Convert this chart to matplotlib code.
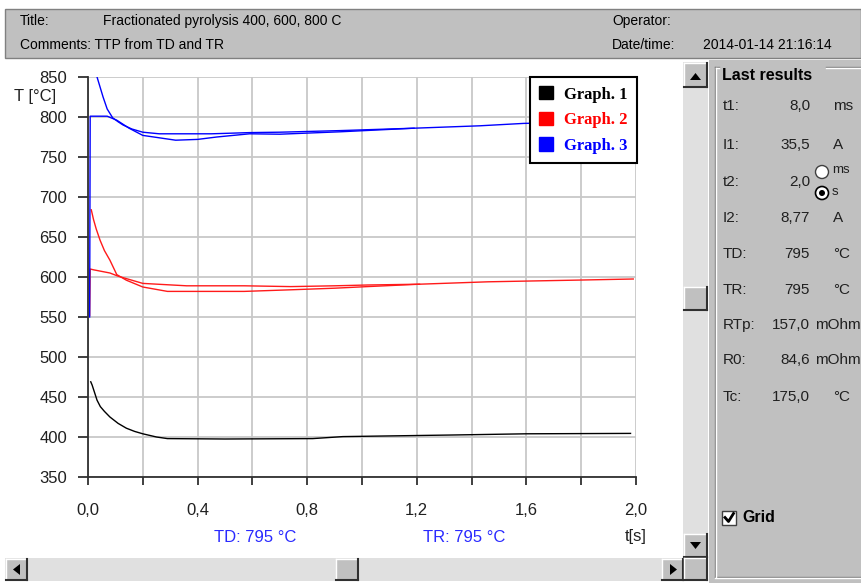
import numpy as np
import matplotlib
matplotlib.use("Agg")
import matplotlib.pyplot as plt
from matplotlib.patches import Rectangle, Polygon, Circle, Patch
from matplotlib.ticker import FuncFormatter
from matplotlib import font_manager

W, H = 861, 583

# Graph 1 (black)
t_g1 = [0.010, 0.015, 0.033, 0.045, 0.06, 0.08, 0.11, 0.14, 0.17, 0.20, 0.25, 0.29, 0.50, 0.82, 0.93, 1.33, 1.60, 1.98]
T_g1 = [469, 465, 446, 438, 432, 425, 417, 411, 407, 404, 400, 398, 397.5, 398, 400.5, 402.5, 404, 404.5]

# Graph 2 (red), two traces
t_g2a = [0.012, 0.02, 0.03, 0.044, 0.06, 0.08, 0.105, 0.14, 0.20, 0.29, 0.57, 0.74, 0.90, 1.02, 1.21, 1.46, 1.77, 1.99]
T_g2a = [684, 672, 660, 646, 633, 621, 603, 596, 587.5, 582, 582, 584, 586, 588, 591, 594, 596, 597.5]
t_g2b = [0.006, 0.008, 0.02, 0.05, 0.08, 0.11, 0.20, 0.36, 0.57, 0.74, 0.90, 1.02, 1.21]
T_g2b = [552, 610, 609, 607, 605, 601, 592, 589, 589, 588, 589, 590, 591]

# Graph 3 (blue), two traces
t_g3a = [0.028, 0.033, 0.055, 0.07, 0.09, 0.11, 0.128, 0.16, 0.20, 0.26, 0.45, 0.59, 0.70, 0.92, 1.19, 1.43, 1.59, 2.0]
T_g3a = [862, 850, 825, 810, 799, 794, 790, 785, 781, 779, 779, 780.5, 781, 783, 786, 789, 792, 795]
t_g3b = [0.006, 0.008, 0.07, 0.105, 0.15, 0.20, 0.32, 0.40, 0.47, 0.59, 0.70, 0.92, 1.19]
T_g3b = [550, 801, 801, 796, 786, 777, 771, 772, 775, 779, 778.5, 781.5, 786]

legend_labels = ["Graph. 1", "Graph. 2", "Graph. 3"]
legend_colors = ["#000000", "#ff0000", "#0000ff"]

results = [("t1:", "8,0", "ms", 106), ("I1:", "35,5", "A", 145), ("t2:", "2,0", "", 182),
           ("I2:", "8,77", "A", 218), ("TD:", "795", "°C", 254), ("TR:", "795", "°C", 290),
           ("RTp:", "157,0", "mOhm", 325), ("R0:", "84,6", "mOhm", 360), ("Tc:", "175,0", "°C", 397)]

avail = {f.name for f in font_manager.fontManager.ttflist}
if "Liberation Sans Narrow" in avail:
    hdr_font, hdr_size = "Liberation Sans Narrow", 12
else:
    hdr_font, hdr_size = "Liberation Sans", 10
sans = "Liberation Sans"

fig = plt.figure(figsize=(W / 100, H / 100), dpi=100)
fig.patch.set_facecolor("white")

# background "window" drawn in pixel coordinates
bg = fig.add_axes([0, 0, 1, 1])
bg.set_xlim(0, W)
bg.set_ylim(H, 0)
bg.axis("off")
bg.set_zorder(0)

def rect(x0, y0, x1, y1, fc, ec="none", lw=0):
    bg.add_patch(Rectangle((x0, y0), x1 - x0, y1 - y0, facecolor=fc, edgecolor=ec, linewidth=lw))

def button(x0, y0, x1, y1):
    rect(x0, y0, x1, y1, "#c0c0c0")
    bg.plot([x0, x1], [y0, y0], color="white", lw=1)
    bg.plot([x0, x0], [y0, y1], color="white", lw=1)
    bg.plot([x0, x1], [y1, y1], color="#303030", lw=1.5)
    bg.plot([x1, x1], [y0, y1], color="#303030", lw=1.5)

def tri(pts):
    bg.add_patch(Polygon(pts, closed=True, facecolor="black", edgecolor="none"))

# header
rect(5, 9, W, 58, "#c0c0c0", "#808080", 1)
bg.text(20, 21, "Title:", fontfamily=hdr_font, fontsize=hdr_size, va="center")
bg.text(103, 21, "Fractionated pyrolysis 400, 600, 800 C", fontfamily=hdr_font, fontsize=hdr_size, va="center")
bg.text(20, 45, "Comments: TTP from TD and TR", fontfamily=hdr_font, fontsize=hdr_size, va="center")
bg.text(612, 21, "Operator:", fontfamily=hdr_font, fontsize=hdr_size, va="center")
bg.text(612, 45, "Date/time:", fontfamily=hdr_font, fontsize=hdr_size, va="center")
bg.text(703, 45, "2014-01-14 21:16:14", fontfamily=hdr_font, fontsize=hdr_size, va="center")

# vertical scrollbar
rect(683, 62, 708, 558, "#e0e0e0")
button(684, 63, 707, 87)
tri([(690, 80), (701, 80), (695.5, 73)])
button(684, 287, 707, 310)
button(684, 534, 707, 557)
tri([(690, 542), (701, 542), (695.5, 549)])
# horizontal scrollbar
rect(5, 558, 683, 581, "#e0e0e0")
button(6, 559, 27, 580)
tri([(20, 564), (20, 575), (13, 569.5)])
button(336, 559, 358, 580)
button(662, 559, 683, 580)
tri([(670, 564), (670, 575), (677, 569.5)])
button(684, 558, 707, 580)

# right panel
rect(709, 60, W, H, "#c0c0c0")
for dx, c in ((0, "#808080"), (1, "white")):
    bg.plot([715 + dx, 715 + dx], [67 + dx, 577], color=c, lw=1)
    bg.plot([715 + dx, 719], [67 + dx, 67 + dx], color=c, lw=1)
    bg.plot([826, W], [67 + dx, 67 + dx], color=c, lw=1)
    bg.plot([715, W], [577 + dx, 577 + dx], color=c, lw=1)
bg.text(722, 75, "Last results", fontfamily=sans, fontsize=11.5, fontweight="bold", va="center")
for lab, val, unit, y in results:
    bg.text(723, y, lab, fontfamily=sans, fontsize=11, va="center", color="#202020")
    bg.text(810, y, val, fontfamily=sans, fontsize=11, va="center", ha="right", color="#202020")
    if unit == "mOhm":
        bg.text(815, y, unit, fontfamily=sans, fontsize=11, va="center", color="#202020")
    elif unit:
        bg.text(833, y, unit, fontfamily=sans, fontsize=11, va="center", color="#202020")
# radio buttons for t2 unit
bg.add_patch(Circle((822, 172), 6.5, facecolor="white", edgecolor="#404040", lw=1))
bg.add_patch(Circle((822, 193), 6.5, facecolor="white", edgecolor="black", lw=1.2))
bg.add_patch(Circle((822, 193), 3, facecolor="black", edgecolor="none"))
bg.text(832, 170, "ms", fontfamily=sans, fontsize=9.5, va="center", color="#202020")
bg.text(832, 192, "s", fontfamily=sans, fontsize=9.5, va="center", color="#202020")
# grid checkbox
rect(722, 511, 736, 525, "white", "#404040", 1)
bg.plot([725, 728.5, 733.5], [517.5, 521.5, 513.5], color="black", lw=2)
bg.text(742, 518, "Grid", fontfamily=sans, fontsize=11.5, fontweight="bold", va="center")

# plot area background and axis texts
rect(0, 60, 683, 557, "white")
bg.text(14, 97, "T [°C]", fontfamily=sans, fontsize=12, va="center", color="#202020")
bg.text(636, 537, "t[s]", fontfamily=sans, fontsize=12, va="center", ha="center", color="#202020")
bg.text(255, 537, "TD: 795 °C", fontfamily=sans, fontsize=12, va="center", ha="center", color="#2a2aff")
bg.text(464, 537, "TR: 795 °C", fontfamily=sans, fontsize=12, va="center", ha="center", color="#2a2aff")

# chart
ax = fig.add_axes([88 / W, 1 - 477 / H, 548 / W, 400 / H])
ax.set_zorder(2)
ax.set_facecolor("none")
ax.plot(t_g1, T_g1, color="black", lw=1.0)
ax.plot(t_g2a, T_g2a, color="#ff1a1a", lw=1.0)
ax.plot(t_g2b, T_g2b, color="#ff1a1a", lw=1.0)
ax.plot(t_g3a, T_g3a, color="#0000ff", lw=1.0)
ax.plot(t_g3b, T_g3b, color="#0000ff", lw=1.0)

ax.set_xlim(0, 2.0)
ax.set_ylim(350, 850)
ax.set_xticks(np.arange(0, 2.01, 0.4))
ax.set_xticks(np.arange(0.2, 2.0, 0.4), minor=True)
ax.set_yticks(np.arange(350, 851, 50))
ax.xaxis.set_major_formatter(FuncFormatter(lambda v, p: f"{v:.1f}".replace(".", ",")))
ax.grid(which="both", color="#c8c8c8", lw=1.3)
ax.set_axisbelow(True)
for s in ("top", "right"):
    ax.spines[s].set_visible(False)
for s in ("left", "bottom"):
    ax.spines[s].set_color("#303030")
    ax.spines[s].set_linewidth(1.3)
ax.tick_params(axis="x", which="both", direction="out", length=6, width=1.3, color="#303030", pad=13)
ax.tick_params(axis="y", direction="out", length=7, width=1.3, color="#303030", pad=8)
for lbl in ax.get_xticklabels() + ax.get_yticklabels():
    lbl.set_fontfamily(sans)
    lbl.set_fontsize(12)
    lbl.set_color("#202020")

handles = [Patch(facecolor=c, edgecolor=c) for c in legend_colors]
leg = ax.legend(handles, legend_labels, loc="upper right",
                bbox_to_anchor=(637 / W, 1 - 77 / H), bbox_transform=fig.transFigure,
                prop={"family": "Liberation Serif", "weight": "bold", "size": 12},
                frameon=True, fancybox=False, framealpha=1, edgecolor="black",
                borderpad=0.55, labelspacing=0.55, handlelength=0.85, handleheight=0.85,
                handletextpad=0.65, borderaxespad=0)
leg.get_frame().set_linewidth(1.5)
for txt, c in zip(leg.get_texts(), legend_colors):
    txt.set_color(c)

fig.savefig("out.png", dpi=100)
